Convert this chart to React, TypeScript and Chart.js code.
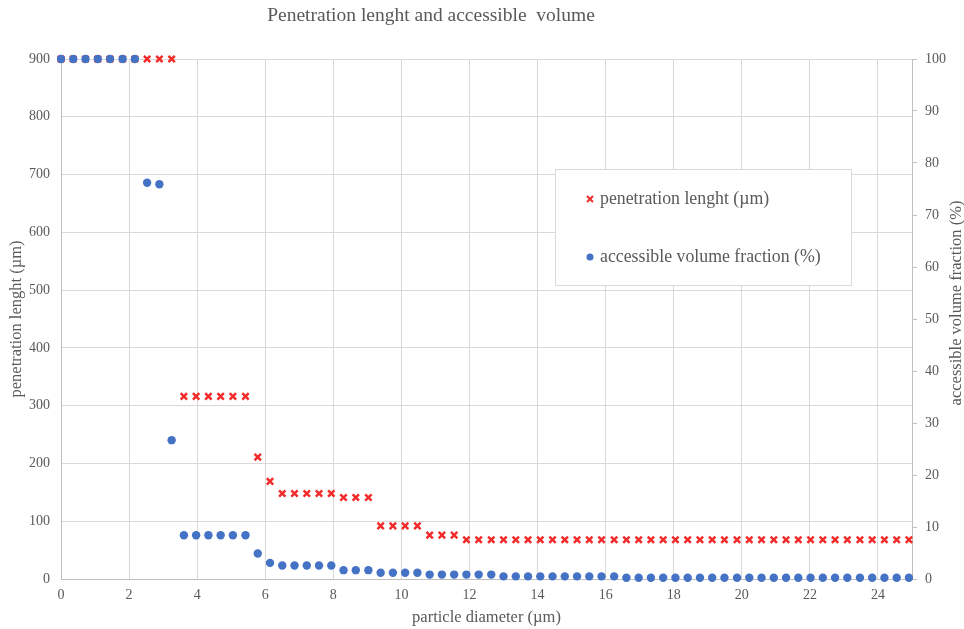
import React, { useEffect, useRef } from 'react';
import { Chart, registerables } from 'chart.js';

Chart.register(...registerables);

const TITLE = 'Penetration lenght and accessible  volume';
const X_TITLE = 'particle diameter (µm)';
const Y_TITLE = 'penetration lenght (µm)';
const Y1_TITLE = 'accessible volume fraction (%)';
const SERIES_PEN = 'penetration lenght (µm)';
const SERIES_VOL = 'accessible volume fraction (%)';

// particle diameter (µm)
const diameter = [
  0, 0.36, 0.72, 1.08, 1.44, 1.81, 2.17, 2.53, 2.89, 3.25,
  3.61, 3.97, 4.33, 4.69, 5.05, 5.42, 5.78, 6.14, 6.5, 6.86,
  7.22, 7.58, 7.94, 8.3, 8.66, 9.03, 9.39, 9.75, 10.11, 10.47,
  10.83, 11.19, 11.55, 11.91, 12.27, 12.64, 13.0, 13.36, 13.72, 14.08,
  14.44, 14.8, 15.16, 15.52, 15.88, 16.25, 16.61, 16.97, 17.33, 17.69,
  18.05, 18.41, 18.77, 19.13, 19.49, 19.86, 20.22, 20.58, 20.94, 21.3,
  21.66, 22.02, 22.38, 22.74, 23.1, 23.47, 23.83, 24.19, 24.55, 24.91,
];

// penetration lenght (µm), left axis
const penetration = [
  900, 900, 900, 900, 900, 900, 900, 900, 900, 900,
  316, 316, 316, 316, 316, 316, 211, 169, 148, 148,
  148, 148, 148, 141, 141, 141, 92, 92, 92, 92,
  76, 76, 76, 68, 68, 68, 68, 68, 68, 68,
  68, 68, 68, 68, 68, 68, 68, 68, 68, 68,
  68, 68, 68, 68, 68, 68, 68, 68, 68, 68,
  68, 68, 68, 68, 68, 68, 68, 68, 68, 68,
];

// accessible volume fraction (%), right axis
const accessible = [
  100, 100, 100, 100, 100, 100, 100, 76.2, 75.9, 26.7,
  8.4, 8.4, 8.4, 8.4, 8.4, 8.4, 4.9, 3.1, 2.6, 2.6,
  2.6, 2.6, 2.6, 1.7, 1.7, 1.7, 1.2, 1.2, 1.2, 1.2,
  0.85, 0.85, 0.85, 0.85, 0.85, 0.85, 0.5, 0.5, 0.5, 0.5,
  0.5, 0.5, 0.5, 0.5, 0.5, 0.5, 0.25, 0.25, 0.25, 0.25,
  0.25, 0.25, 0.25, 0.25, 0.25, 0.25, 0.25, 0.25, 0.25, 0.25,
  0.25, 0.25, 0.25, 0.25, 0.25, 0.25, 0.25, 0.25, 0.25, 0.25,
];

const X_MIN = 0, X_MAX = 25, X_STEP = 2;
const Y_MIN = 0, Y_MAX = 900, Y_STEP = 100;
const Y1_MIN = 0, Y1_MAX = 100, Y1_STEP = 10;

const FONT = "'Liberation Serif', 'Times New Roman', serif";
const TEXT = '#595959';
const GRID = '#d9d9d9';
const AXIS = '#bfbfbf';
const RED = '#f22b2b';
const BLUE = '#4472c4';

const W = 964;
const H = 629;

const overlayPlugin = {
  id: 'overlay',
  afterDraw(chart: any) {
    const ctx = chart.ctx as CanvasRenderingContext2D;
    const area = chart.chartArea;
    ctx.save();
    // chart title
    ctx.fillStyle = TEXT;
    ctx.font = `19.5px ${FONT}`;
    ctx.textAlign = 'center';
    ctx.textBaseline = 'middle';
    ctx.fillText(TITLE, 431, 16);

    // right axis title (reads bottom to top)
    ctx.save();
    ctx.translate(957, (area.top + area.bottom) / 2 - 16);
    ctx.rotate(-Math.PI / 2);
    ctx.font = `16.5px ${FONT}`;
    ctx.fillText(Y1_TITLE, 0, 0);
    ctx.restore();

    // legend box
    const lx = 555, ly = 169, lw = 296, lh = 116;
    ctx.fillStyle = '#ffffff';
    ctx.fillRect(lx, ly, lw, lh);
    ctx.strokeStyle = GRID;
    ctx.lineWidth = 1;
    ctx.strokeRect(lx + 0.5, ly + 0.5, lw, lh);

    const ds = chart.data.datasets;
    ctx.font = `17.8px ${FONT}`;
    ctx.textAlign = 'left';
    ctx.textBaseline = 'middle';

    // item 1: cross
    const y1 = 199;
    ctx.strokeStyle = RED;
    ctx.lineWidth = 2;
    const r = 3;
    ctx.beginPath();
    ctx.moveTo(590 - r, y1 - r); ctx.lineTo(590 + r, y1 + r);
    ctx.moveTo(590 + r, y1 - r); ctx.lineTo(590 - r, y1 + r);
    ctx.stroke();
    ctx.fillStyle = TEXT;
    ctx.fillText(ds[0].label, 600, y1);

    // item 2: dot
    const y2 = 257;
    ctx.fillStyle = BLUE;
    ctx.beginPath();
    ctx.arc(590, y2, 3.5, 0, Math.PI * 2);
    ctx.fill();
    ctx.fillStyle = TEXT;
    ctx.fillText(ds[1].label, 600, y2);
    ctx.restore();
  },
};

export default function App() {
  const ref = useRef<HTMLCanvasElement | null>(null);

  useEffect(() => {
    if (!ref.current) return;
    const chart = new Chart(ref.current, {
      type: 'scatter',
      data: {
        datasets: [
          {
            label: SERIES_PEN,
            data: diameter.map((x, i) => ({ x, y: penetration[i] })),
            yAxisID: 'y',
            pointStyle: 'crossRot',
            pointRadius: 4.5,
            borderWidth: 2.5,
            borderColor: RED,
            backgroundColor: RED,
            clip: false,
            order: 1,
          },
          {
            label: SERIES_VOL,
            data: diameter.map((x, i) => ({ x, y: accessible[i] })),
            yAxisID: 'y1',
            pointStyle: 'circle',
            pointRadius: 4.2,
            borderWidth: 0,
            borderColor: BLUE,
            backgroundColor: BLUE,
            clip: false,
            order: 0,
          },
        ],
      },
      options: {
        responsive: false,
        animation: false,
        layout: { padding: { top: 59, left: 0, right: 0, bottom: 0 } },
        plugins: {
          legend: { display: false },
          title: { display: false },
          tooltip: { enabled: false },
        },
        scales: {
          x: {
            type: 'linear',
            position: 'bottom',
            min: X_MIN,
            max: X_MAX,
            afterBuildTicks: (s: any) => {
              s.ticks = s.ticks.filter((t: any) => t.value % X_STEP === 0);
            },
            afterFit: (s: any) => { s.height = 50; },
            ticks: {
              stepSize: X_STEP,
              padding: 8,
              color: TEXT,
              font: { family: FONT, size: 14 },
            },
            grid: { color: GRID, drawTicks: false },
            border: { color: AXIS },
            title: {
              display: true,
              text: X_TITLE,
              color: TEXT,
              font: { family: FONT, size: 16.5 },
              padding: { top: 0, bottom: 1 },
            },
          },
          y: {
            type: 'linear',
            position: 'left',
            min: Y_MIN,
            max: Y_MAX,
            afterFit: (s: any) => { s.width = 61; },
            ticks: {
              stepSize: Y_STEP,
              padding: 11,
              color: TEXT,
              font: { family: FONT, size: 14 },
            },
            grid: { color: GRID, drawTicks: false },
            border: { color: AXIS },
            title: {
              display: true,
              text: Y_TITLE,
              color: TEXT,
              font: { family: FONT, size: 16.5 },
              padding: { top: 7, bottom: 0 },
            },
          },
          y1: {
            type: 'linear',
            position: 'right',
            min: Y1_MIN,
            max: Y1_MAX,
            afterFit: (s: any) => { s.width = 52; },
            ticks: {
              stepSize: Y1_STEP,
              padding: 8,
              color: TEXT,
              font: { family: FONT, size: 14 },
            },
            grid: { drawOnChartArea: false, drawTicks: true, tickLength: 5, color: AXIS },
            border: { color: AXIS },
            title: { display: false },
          },
        },
      },
      plugins: [overlayPlugin],
    } as any);
    return () => chart.destroy();
  }, []);

  return (
    <div style={{ position: 'absolute', left: 0, top: 0, width: W, height: H, background: '#fff' }}>
      <canvas ref={ref} width={W} height={H} style={{ display: 'block' }} />
    </div>
  );
}
